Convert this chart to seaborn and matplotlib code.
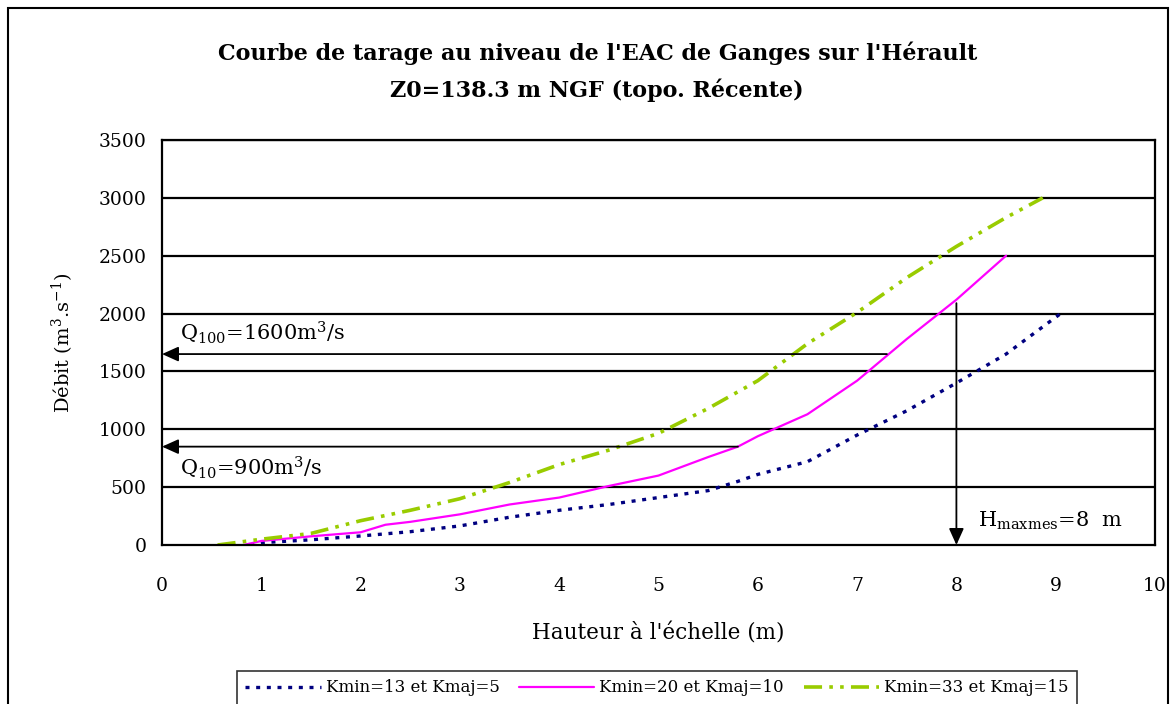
import matplotlib
matplotlib.use("Agg")
import matplotlib.pyplot as plt
import seaborn as sns
import pandas as pd
from matplotlib.patches import Rectangle

# ---- data ----
h_k13 = [0.89, 1.0, 1.5, 2.0, 2.5, 3.0, 3.5, 4.0, 4.5, 5.0, 5.5, 5.8, 6.0, 6.5, 7.0, 7.5, 8.0, 8.5, 9.05]
q_k13 = [0, 20, 45, 78, 115, 165, 240, 300, 350, 410, 470, 550, 610, 720, 950, 1160, 1400, 1650, 2000]

h_k20 = [0.82, 1.0, 1.5, 2.0, 2.25, 2.5, 3.0, 3.5, 4.0, 4.5, 5.0, 5.5, 5.8, 6.0, 6.5, 7.0, 7.5, 8.0, 8.5]
q_k20 = [0, 35, 75, 110, 175, 200, 265, 350, 410, 510, 600, 760, 850, 940, 1130, 1420, 1780, 2120, 2500]

h_k33 = [0.56, 1.0, 1.5, 2.0, 2.5, 3.0, 3.5, 4.0, 4.5, 5.0, 5.5, 6.0, 6.5, 7.0, 7.5, 8.0, 8.5, 8.87]
q_k33 = [0, 50, 100, 210, 300, 400, 540, 695, 820, 965, 1180, 1420, 1740, 2010, 2310, 2580, 2830, 3000]

series_labels = ["Kmin=13 et Kmaj=5", "Kmin=20 et Kmaj=10", "Kmin=33 et Kmaj=15"]
x_ticks = list(range(0, 11))
y_ticks = list(range(0, 3501, 500))

q100_level, q100_from = 1650, 7.3
q10_level, q10_from = 850, 5.8
hmax, hmax_top = 8.0, 2090

sns.set_style("white")
plt.rcParams['font.family'] = ['DejaVu Serif']
plt.rcParams['text.color'] = 'black'
plt.rcParams['axes.labelcolor'] = 'black'
plt.rcParams['xtick.color'] = 'black'
plt.rcParams['ytick.color'] = 'black'
plt.rcParams['mathtext.fontset'] = 'dejavuserif'

fig = plt.figure(figsize=(11.71, 7.04), dpi=100)
ax = fig.add_axes([162/1171, 159/704, 993/1171, 405/704])

df = pd.concat([
    pd.DataFrame({"h": h_k13, "q": q_k13, "s": series_labels[0]}),
    pd.DataFrame({"h": h_k20, "q": q_k20, "s": series_labels[1]}),
    pd.DataFrame({"h": h_k33, "q": q_k33, "s": series_labels[2]}),
])

styles = {
    series_labels[0]: dict(color="#000080", lw=2.4, ls=(0, (1.2, 2.0))),
    series_labels[1]: dict(color="#FF00FF", lw=1.6, ls="-"),
    series_labels[2]: dict(color="#99CC00", lw=2.6, ls=(0, (5, 2, 1, 2, 1, 2))),
}
for lab in series_labels:
    sub = df[df["s"] == lab]
    st = styles[lab]
    sns.lineplot(data=sub, x="h", y="q", ax=ax, color=st["color"], linewidth=st["lw"],
                 linestyle=st["ls"], label=lab, sort=False, estimator=None, legend=False)

ax.set_xlim(0, 10)
ax.set_ylim(0, 3500)
ax.set_xticks(x_ticks)
ax.set_yticks(y_ticks)
for y in y_ticks[1:]:
    ax.axhline(y, color="black", lw=1.6, zorder=0)
for s in ax.spines.values():
    s.set_color("black")
    s.set_linewidth(1.6)
ax.tick_params(axis="both", direction="out", length=5, width=1.2, colors="black",
               labelsize=13.5, pad=6)
ax.tick_params(axis="x", pad=18)
ax.set_xlabel("Hauteur à l'échelle (m)", fontsize=15.5, labelpad=20)
ax.set_ylabel("Débit (m$^{\\mathregular{3}}$.s$^{\\mathregular{-1}}$)", fontsize=14, labelpad=16)

arrow_kw = dict(arrowstyle="-|>,head_length=1.0,head_width=0.45", color="black", lw=1.3,
                shrinkA=0, shrinkB=0)
ax.annotate("", xy=(0, q100_level), xytext=(q100_from, q100_level), arrowprops=arrow_kw)
ax.annotate("", xy=(0, q10_level), xytext=(q10_from, q10_level), arrowprops=arrow_kw)
ax.annotate("", xy=(hmax, 0), xytext=(hmax, hmax_top), arrowprops=arrow_kw)

ax.text(0.18, 1830, "Q$_{\\mathregular{100}}$=1600m$^{\\mathregular{3}}$/s", fontsize=15, va="center")
ax.text(0.18, 670, "Q$_{\\mathregular{10}}$=900m$^{\\mathregular{3}}$/s", fontsize=15, va="center")
ax.text(8.22, 210, "H$_{\\mathregular{maxmes}}$=8  m", fontsize=15, va="center")

fig.text(0.51, 0.925, "Courbe de tarage au niveau de l'EAC de Ganges sur l'Hérault",
         ha="center", va="center", fontsize=16, fontweight="bold")
fig.text(0.51, 0.872, "Z0=138.3 m NGF (topo. Récente)",
         ha="center", va="center", fontsize=16, fontweight="bold")

leg = fig.legend(*ax.get_legend_handles_labels(), loc="center", ncol=3,
                 bbox_to_anchor=(657/1171, 1 - 688/704), frameon=True, fontsize=12,
                 handlelength=4.5, columnspacing=1.2, handletextpad=0.3,
                 fancybox=False, borderpad=0.5)
leg.get_frame().set_edgecolor("black")
leg.get_frame().set_linewidth(1.2)

fig.patches.append(Rectangle((8/1171, -0.05), 1160/1171, 1.05 - 8/704, transform=fig.transFigure,
                             fill=False, edgecolor="black", lw=1.5))

fig.savefig("out.png", dpi=100)
